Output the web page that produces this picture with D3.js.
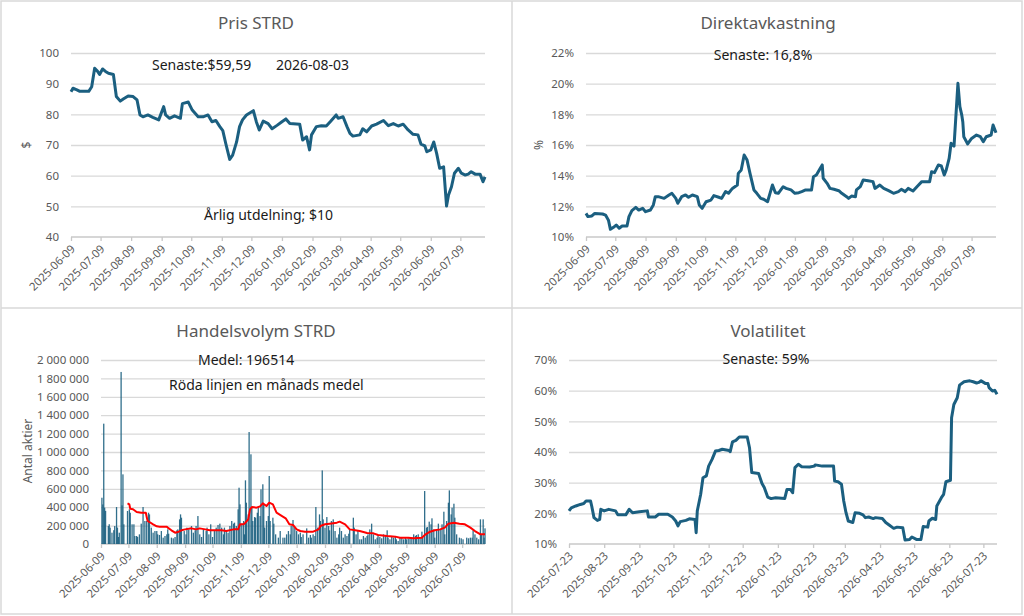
<!DOCTYPE html>
<html>
<head>
<meta charset="utf-8">
<script src="https://cdn.jsdelivr.net/npm/d3@7"></script>
<style>
  body { margin: 0; background: #fff; }
  svg { font-family: "Noto Sans", sans-serif; display: block; }
</style>
</head>
<body>
<svg id="dash" width="1024" height="616"></svg>
<script>
// ---- data ----
const priceDates = ["2025-06-09","2025-06-11","2025-06-15","2025-06-18","2025-06-27","2025-06-30","2025-07-03","2025-07-06","2025-07-08","2025-07-11","2025-07-14","2025-07-17","2025-07-22","2025-07-25","2025-07-29","2025-08-01","2025-08-06","2025-08-11","2025-08-15","2025-08-18","2025-08-21","2025-08-26","2025-08-31","2025-09-06","2025-09-11","2025-09-13","2025-09-17","2025-09-22","2025-09-28","2025-09-30","2025-10-06","2025-10-10","2025-10-16","2025-10-21","2025-10-26","2025-10-30","2025-11-03","2025-11-07","2025-11-10","2025-11-13","2025-11-17","2025-11-20","2025-11-24","2025-11-27","2025-11-30","2025-12-04","2025-12-11","2025-12-14","2025-12-17","2025-12-21","2025-12-26","2025-12-30","2026-01-04","2026-01-09","2026-01-13","2026-01-17","2026-01-27","2026-01-30","2026-02-03","2026-02-06","2026-02-08","2026-02-13","2026-02-18","2026-02-23","2026-02-27","2026-03-05","2026-03-07","2026-03-12","2026-03-16","2026-03-19","2026-03-22","2026-03-29","2026-04-01","2026-04-05","2026-04-10","2026-04-15","2026-04-22","2026-04-27","2026-05-02","2026-05-07","2026-05-12","2026-05-17","2026-05-22","2026-05-27","2026-05-30","2026-06-03","2026-06-05","2026-06-09","2026-06-12","2026-06-15","2026-06-18","2026-06-22","2026-06-25","2026-06-27","2026-06-30","2026-07-03","2026-07-07","2026-07-10","2026-07-14","2026-07-17","2026-07-20","2026-07-24","2026-07-29","2026-08-01","2026-08-03"];
const priceValues = [87.4,88.5,88.0,87.5,87.5,89.0,95.0,94.0,93.0,94.8,94.0,93.4,93.0,85.8,84.3,85.0,86.0,85.8,84.7,79.8,79.2,79.8,79.0,78.2,82.5,79.8,78.7,79.5,78.7,83.5,84.0,81.4,79.2,79.2,79.8,77.6,78.0,76.0,74.7,70.5,65.3,66.7,71.0,76.0,78.2,79.8,81.2,77.6,74.9,77.8,77.0,75.3,76.4,77.6,78.5,77.0,76.8,71.6,72.7,68.4,73.3,76.0,76.3,76.2,77.6,79.8,78.7,79.2,76.0,73.8,72.9,73.3,75.3,74.3,76.2,76.8,78.0,76.3,77.0,76.2,76.8,74.9,73.5,73.3,70.3,69.7,67.8,68.4,71.0,67.2,62.4,62.9,50.1,53.7,56.4,60.8,62.4,60.8,60.2,60.5,61.3,60.5,60.5,58.0,59.6];

const yieldDates = ["2025-06-09","2025-06-11","2025-06-15","2025-06-18","2025-06-26","2025-06-29","2025-07-02","2025-07-04","2025-07-08","2025-07-10","2025-07-13","2025-07-16","2025-07-21","2025-07-23","2025-07-26","2025-07-30","2025-08-02","2025-08-06","2025-08-09","2025-08-14","2025-08-17","2025-08-19","2025-08-22","2025-08-28","2025-09-02","2025-09-05","2025-09-09","2025-09-11","2025-09-15","2025-09-19","2025-09-22","2025-09-26","2025-10-01","2025-10-03","2025-10-06","2025-10-10","2025-10-15","2025-10-18","2025-10-23","2025-10-26","2025-10-30","2025-11-02","2025-11-06","2025-11-11","2025-11-12","2025-11-15","2025-11-18","2025-11-21","2025-11-24","2025-11-28","2025-12-01","2025-12-05","2025-12-08","2025-12-12","2025-12-15","2025-12-17","2025-12-20","2025-12-23","2025-12-28","2025-12-31","2026-01-05","2026-01-09","2026-01-13","2026-01-16","2026-01-20","2026-01-26","2026-01-28","2026-01-31","2026-02-04","2026-02-06","2026-02-07","2026-02-11","2026-02-14","2026-02-18","2026-02-23","2026-02-26","2026-03-03","2026-03-05","2026-03-08","2026-03-12","2026-03-13","2026-03-17","2026-03-20","2026-03-25","2026-03-30","2026-04-01","2026-04-06","2026-04-10","2026-04-15","2026-04-20","2026-04-25","2026-04-28","2026-05-02","2026-05-05","2026-05-10","2026-05-14","2026-05-19","2026-05-27","2026-05-29","2026-06-01","2026-06-05","2026-06-08","2026-06-11","2026-06-13","2026-06-16","2026-06-18","2026-06-21","2026-06-25","2026-06-27","2026-06-29","2026-06-30","2026-07-01","2026-07-05","2026-07-09","2026-07-14","2026-07-18","2026-07-21","2026-07-24","2026-07-29","2026-07-31","2026-08-03"];
const yieldValues = [11.54,11.33,11.37,11.54,11.50,11.43,11.10,10.50,10.67,10.78,10.57,10.72,10.72,11.33,11.72,11.93,11.76,11.87,11.65,11.76,12.09,12.63,12.63,12.52,12.74,12.85,12.52,12.20,12.63,12.74,12.59,12.74,12.63,12.09,11.87,12.30,12.41,12.70,12.59,12.52,12.96,12.85,13.17,13.39,14.15,14.37,15.35,15.02,14.15,13.07,12.85,12.52,12.46,12.30,12.96,13.39,12.89,12.85,13.28,13.17,13.07,12.85,12.89,12.96,13.07,13.07,13.93,14.04,14.48,14.70,13.83,13.50,13.17,13.11,13.02,12.85,12.63,12.52,12.67,12.63,13.07,13.28,13.72,13.67,13.61,13.17,13.39,13.17,13.02,12.85,12.96,13.11,12.96,13.17,13.00,13.28,13.61,13.61,14.26,14.20,14.70,14.63,14.04,14.37,15.13,16.11,15.93,20.02,18.50,17.93,17.50,16.54,16.07,16.43,16.65,16.54,16.22,16.54,16.65,17.30,16.80];

const volumeDates = ["2025-06-10","2025-06-11","2025-06-12","2025-06-13","2025-06-14","2025-06-17","2025-06-18","2025-06-19","2025-06-21","2025-06-23","2025-06-24","2025-06-26","2025-06-27","2025-06-28","2025-06-29","2025-07-01","2025-07-02","2025-07-03","2025-07-04","2025-07-08","2025-07-10","2025-07-11","2025-07-13","2025-07-15","2025-07-16","2025-07-18","2025-07-19","2025-07-21","2025-07-23","2025-07-25","2025-07-27","2025-07-29","2025-07-31","2025-08-01","2025-08-03","2025-08-05","2025-08-07","2025-08-09","2025-08-10","2025-08-12","2025-08-14","2025-08-16","2025-08-18","2025-08-20","2025-08-21","2025-08-22","2025-08-25","2025-08-27","2025-08-29","2025-08-31","2025-09-01","2025-09-03","2025-09-04","2025-09-05","2025-09-08","2025-09-10","2025-09-11","2025-09-13","2025-09-16","2025-09-18","2025-09-20","2025-09-21","2025-09-23","2025-09-25","2025-09-27","2025-09-29","2025-10-02","2025-10-03","2025-10-05","2025-10-07","2025-10-09","2025-10-11","2025-10-13","2025-10-15","2025-10-17","2025-10-19","2025-10-21","2025-10-22","2025-10-24","2025-10-26","2025-10-28","2025-10-30","2025-11-01","2025-11-02","2025-11-04","2025-11-06","2025-11-07","2025-11-08","2025-11-10","2025-11-12","2025-11-13","2025-11-14","2025-11-15","2025-11-17","2025-11-18","2025-11-20","2025-11-21","2025-11-22","2025-11-24","2025-11-25","2025-11-27","2025-11-28","2025-11-30","2025-12-01","2025-12-03","2025-12-04","2025-12-05","2025-12-07","2025-12-09","2025-12-10","2025-12-11","2025-12-14","2025-12-15","2025-12-17","2025-12-20","2025-12-22","2025-12-25","2025-12-27","2025-12-29","2025-12-31","2026-01-02","2026-01-03","2026-01-05","2026-01-07","2026-01-09","2026-01-11","2026-01-13","2026-01-14","2026-01-16","2026-01-20","2026-01-22","2026-01-24","2026-01-25","2026-01-27","2026-01-29","2026-01-30","2026-02-01","2026-02-03","2026-02-04","2026-02-06","2026-02-07","2026-02-09","2026-02-11","2026-02-13","2026-02-14","2026-02-16","2026-02-18","2026-02-20","2026-02-22","2026-02-24","2026-02-25","2026-02-27","2026-03-01","2026-03-03","2026-03-05","2026-03-07","2026-03-08","2026-03-12","2026-03-13","2026-03-15","2026-03-17","2026-03-19","2026-03-21","2026-03-23","2026-03-25","2026-03-27","2026-03-28","2026-03-30","2026-04-01","2026-04-03","2026-04-05","2026-04-07","2026-04-08","2026-04-10","2026-04-12","2026-04-14","2026-04-16","2026-04-18","2026-04-19","2026-04-21","2026-04-23","2026-04-25","2026-04-27","2026-04-28","2026-04-30","2026-05-02","2026-05-04","2026-05-06","2026-05-08","2026-05-09","2026-05-11","2026-05-13","2026-05-15","2026-05-17","2026-05-19","2026-05-20","2026-05-22","2026-05-24","2026-05-26","2026-05-27","2026-05-29","2026-05-31","2026-06-01","2026-06-03","2026-06-05","2026-06-06","2026-06-08","2026-06-09","2026-06-11","2026-06-13","2026-06-15","2026-06-17","2026-06-19","2026-06-20","2026-06-22","2026-06-24","2026-06-25","2026-06-27","2026-06-28","2026-06-30","2026-07-01","2026-07-03","2026-07-06","2026-07-08","2026-07-10","2026-07-14","2026-07-16","2026-07-18","2026-07-20","2026-07-21","2026-07-23","2026-07-25","2026-07-27","2026-07-29","2026-07-30","2026-08-01","2026-08-02","2026-08-03"];
const volumeValues = [503000,430000,1308000,395000,360000,195000,215000,178000,123000,150000,195000,402000,178000,76000,123000,1870000,420000,757000,214000,359000,377000,340000,214000,214000,87000,87000,76000,105000,221000,402000,250000,250000,340000,322000,178000,123000,141000,141000,105000,98000,141000,69000,87000,105000,159000,112000,69000,62000,76000,149000,159000,268000,322000,286000,141000,105000,178000,159000,196000,123000,149000,196000,304000,105000,76000,159000,141000,178000,105000,214000,76000,141000,178000,207000,221000,178000,105000,178000,141000,123000,196000,250000,221000,232000,196000,377000,612000,431000,221000,250000,105000,692000,449000,322000,1217000,975000,395000,250000,293000,286000,340000,402000,304000,594000,649000,431000,178000,250000,304000,739000,250000,286000,221000,105000,69000,141000,69000,69000,105000,141000,105000,196000,261000,178000,141000,105000,123000,76000,105000,170000,69000,98000,69000,105000,87000,402000,178000,322000,250000,800000,268000,178000,293000,196000,149000,250000,268000,141000,69000,105000,178000,141000,69000,105000,87000,112000,159000,286000,178000,105000,149000,51000,51000,87000,69000,87000,105000,159000,221000,105000,51000,69000,87000,76000,62000,105000,87000,149000,69000,51000,87000,69000,76000,51000,33000,69000,69000,51000,76000,51000,62000,76000,69000,105000,87000,98000,105000,69000,134000,69000,576000,178000,185000,243000,214000,279000,159000,69000,149000,221000,159000,214000,351000,105000,250000,449000,583000,322000,395000,438000,286000,105000,69000,62000,51000,69000,62000,69000,69000,149000,105000,69000,51000,268000,105000,268000,69000,170000];

const avgDates = ["2025-07-08","2025-07-10","2025-07-11","2025-07-14","2025-07-18","2025-07-23","2025-07-28","2025-07-29","2025-07-30","2025-08-01","2025-08-05","2025-08-09","2025-08-12","2025-08-20","2025-08-21","2025-08-25","2025-08-29","2025-09-01","2025-09-05","2025-09-09","2025-09-16","2025-09-21","2025-09-25","2025-10-01","2025-10-06","2025-10-13","2025-10-19","2025-10-24","2025-11-01","2025-11-06","2025-11-08","2025-11-12","2025-11-14","2025-11-17","2025-11-19","2025-11-21","2025-11-26","2025-11-30","2025-12-03","2025-12-07","2025-12-10","2025-12-14","2025-12-18","2025-12-24","2025-12-28","2026-01-01","2026-01-05","2026-01-09","2026-01-13","2026-01-18","2026-01-27","2026-02-02","2026-02-04","2026-02-09","2026-02-14","2026-02-22","2026-02-25","2026-03-03","2026-03-08","2026-03-14","2026-03-19","2026-03-27","2026-04-03","2026-04-08","2026-04-18","2026-04-27","2026-05-02","2026-05-11","2026-05-17","2026-05-26","2026-05-30","2026-06-04","2026-06-09","2026-06-15","2026-06-20","2026-06-24","2026-06-30","2026-07-06","2026-07-12","2026-07-18","2026-07-23","2026-07-29","2026-08-03"];
const avgValues = [442000,431000,384000,377000,348000,340000,340000,293000,250000,239000,214000,192000,188000,188000,178000,149000,123000,130000,149000,159000,170000,159000,170000,159000,149000,149000,149000,141000,159000,159000,214000,214000,232000,268000,377000,402000,395000,409000,442000,413000,449000,431000,340000,304000,279000,214000,207000,159000,141000,134000,134000,159000,196000,214000,221000,232000,243000,214000,159000,149000,141000,120000,116000,98000,87000,80000,69000,69000,62000,69000,105000,134000,149000,159000,178000,221000,232000,221000,214000,178000,141000,105000,105000];

const volaDates = ["2025-07-23","2025-07-25","2025-07-29","2025-08-02","2025-08-05","2025-08-07","2025-08-11","2025-08-12","2025-08-14","2025-08-17","2025-08-19","2025-08-20","2025-08-23","2025-08-27","2025-09-02","2025-09-04","2025-09-11","2025-09-14","2025-09-17","2025-09-23","2025-09-30","2025-10-01","2025-10-07","2025-10-10","2025-10-18","2025-10-22","2025-10-25","2025-10-27","2025-10-29","2025-11-03","2025-11-06","2025-11-11","2025-11-12","2025-11-13","2025-11-16","2025-11-18","2025-11-21","2025-11-23","2025-11-26","2025-11-29","2025-12-02","2025-12-05","2025-12-11","2025-12-12","2025-12-14","2025-12-17","2025-12-20","2025-12-27","2025-12-29","2025-12-31","2026-01-06","2026-01-09","2026-01-11","2026-01-14","2026-01-17","2026-01-21","2026-01-29","2026-01-31","2026-02-03","2026-02-05","2026-02-07","2026-02-10","2026-02-13","2026-02-20","2026-02-24","2026-02-25","2026-03-03","2026-03-13","2026-03-14","2026-03-17","2026-03-20","2026-03-22","2026-03-24","2026-03-26","2026-03-30","2026-04-01","2026-04-05","2026-04-08","2026-04-10","2026-04-13","2026-04-17","2026-04-19","2026-04-25","2026-04-28","2026-05-01","2026-05-05","2026-05-08","2026-05-13","2026-05-15","2026-05-19","2026-05-21","2026-05-25","2026-05-29","2026-05-31","2026-06-04","2026-06-05","2026-06-08","2026-06-11","2026-06-12","2026-06-16","2026-06-18","2026-06-20","2026-06-24","2026-06-25","2026-06-27","2026-06-30","2026-07-02","2026-07-06","2026-07-11","2026-07-14","2026-07-17","2026-07-19","2026-07-21","2026-07-25","2026-07-27","2026-07-28","2026-07-31","2026-08-02","2026-08-04"];
const volaValues = [20.8,21.8,22.4,22.9,23.2,24.0,24.0,22.4,18.6,17.7,18.0,21.3,20.8,21.3,20.8,19.5,19.5,21.3,20.2,20.5,20.8,18.8,18.8,19.7,19.7,18.8,17.5,15.9,17.3,17.7,18.2,18.0,13.7,20.8,26.2,31.6,32.2,35.4,37.6,40.3,40.5,40.9,40.5,40.1,43.3,43.8,44.9,44.9,41.4,33.3,33.0,29.7,28.4,25.3,24.8,25.1,24.8,27.8,27.8,26.7,34.9,36.0,35.2,35.1,35.4,35.8,35.4,35.4,30.5,30.3,29.5,24.0,20.2,17.5,17.0,20.2,20.0,19.5,18.6,18.8,18.3,18.6,18.3,17.0,16.2,15.1,15.5,15.3,11.3,11.5,12.3,11.5,11.5,15.7,15.5,17.5,18.4,18.0,22.4,25.1,26.2,30.3,30.8,51.2,55.5,57.7,61.8,62.9,63.2,62.9,62.5,62.7,63.2,62.3,62.3,61.0,59.9,60.1,58.8];

// tick labels
const monthTicks = ["2025-06-09","2025-07-09","2025-08-09","2025-09-09","2025-10-09","2025-11-09","2025-12-09","2026-01-09","2026-02-09","2026-03-09","2026-04-09","2026-05-09","2026-06-09","2026-07-09"];
const volaTicks = ["2025-07-23","2025-08-23","2025-09-23","2025-10-23","2025-11-23","2025-12-23","2026-01-23","2026-02-23","2026-03-23","2026-04-23","2026-05-23","2026-06-23","2026-07-23"];
const priceTicks = [40, 50, 60, 70, 80, 90, 100];
const yieldTicks = [10, 12, 14, 16, 18, 20, 22];
const volumeTicks = [0, 200000, 400000, 600000, 800000, 1000000, 1200000, 1400000, 1600000, 1800000, 2000000];
const volaTicks_y = [10, 20, 30, 40, 50, 60, 70];

const parse = d3.utcParse("%Y-%m-%d");
const fmtDate = d3.utcFormat("%Y-%m-%d");
const spaced = d3.formatLocale({ decimal: ",", thousands: "\u00a0", grouping: [3], currency: ["", ""] }).format(",d");

const svg = d3.select("svg#dash");
const blue = "#1b5f80";
const grey = "#595959";

// frame
svg.append("rect").attr("x", 1).attr("y", 1).attr("width", 1021).attr("height", 613)
	.attr("fill", "none").attr("stroke", "#d9d9d9").attr("stroke-width", 1.5);
svg.append("line").attr("x1", 512).attr("x2", 512).attr("y1", 1).attr("y2", 614)
	.attr("stroke", "#d9d9d9").attr("stroke-width", 1.5);
svg.append("line").attr("x1", 1).attr("x2", 1022).attr("y1", 308).attr("y2", 308)
	.attr("stroke", "#d9d9d9").attr("stroke-width", 1.5);

const drawPanel = function (p) {
	const g = svg.append("g");
	const x = d3.scaleUtc(p.xDomain.map(parse), [p.left, p.right]);
	const y = d3.scaleLinear([p.yTicks[0], p.yTicks[p.yTicks.length - 1]], [p.bottom, p.top]);

	let grid = d3.axisLeft(y).tickValues(p.yTicks.slice(1)).tickSize(-(p.right - p.left)).tickFormat("");
	g.append("g").attr("class", "y-grid")
		.attr("transform", `translate(${p.left},0)`)
		.call(grid)
		.call((s) => s.select(".domain").remove())
		.selectAll("line").attr("stroke", "#d9d9d9").attr("stroke-width", 1.3);

	let leftAxis = d3.axisLeft(y).tickValues(p.yTicks).tickFormat(p.yFormat).tickSize(0).tickPadding(p.pad);
	g.append("g").attr("class", "y-axis")
		.attr("transform", `translate(${p.left},0)`)
		.call(leftAxis)
		.call((s) => s.select(".domain").remove())
		.selectAll("text").attr("fill", grey).attr("font-size", 11.5).attr("font-family", "Noto Sans");

	let bottomAxis = d3.axisBottom(x).tickValues(p.xTicks.map(parse)).tickFormat(fmtDate).tickSize(4).tickSizeOuter(0);
	const xa = g.append("g").attr("class", "x-axis")
		.attr("transform", `translate(0,${p.bottom})`)
		.call(bottomAxis);
	xa.select(".domain").attr("stroke", "#c8c8c8").attr("stroke-width", 1.3)
		.attr("d", `M${p.left},0H${p.right}`);
	xa.selectAll(".tick line").attr("stroke", "#c8c8c8").attr("stroke-width", 1.3);
	xa.selectAll("text")
		.attr("fill", grey).attr("font-size", 11.3).attr("font-family", "Noto Sans")
		.attr("text-anchor", "end")
		.attr("x", -6).attr("y", 8).attr("dy", "0.35em")
		.attr("transform", "rotate(-45)");

	g.append("text").attr("x", p.titleX).attr("y", p.titleY).attr("dy", "0.35em")
		.attr("text-anchor", "middle").attr("font-size", 17).attr("fill", grey).text(p.title);

	if (p.yLabel) {
		g.append("text")
			.attr("transform", `translate(${p.yLabelX},${p.yLabelY}) rotate(-90)`)
			.attr("dy", "0.35em").attr("text-anchor", "middle")
			.attr("font-size", 12).attr("fill", grey).text(p.yLabel);
	}
	return { g, x, y };
};

const note = function (txt, x, y, anchor) {
	svg.append("text").attr("x", x).attr("y", y).attr("dy", "0.35em")
		.attr("text-anchor", anchor).attr("font-size", 14).attr("fill", "#1a1a1a").text(txt);
};

// 1. Pris STRD
const pPrice = drawPanel({
	left: 71, right: 485, top: 53, bottom: 237, pad: 12,
	xDomain: ["2025-06-09", "2026-08-03"], xTicks: monthTicks,
	yTicks: priceTicks, yFormat: d3.format("d"),
	title: "Pris STRD", titleX: 256, titleY: 23,
	yLabel: "$", yLabelX: 27, yLabelY: 145
});
pPrice.g.append("path")
	.datum(priceDates.map((d, i) => [parse(d), priceValues[i]]))
	.attr("fill", "none").attr("stroke", blue).attr("stroke-width", 3).attr("stroke-linejoin", "round")
	.attr("d", d3.line((d) => pPrice.x(d[0]), (d) => pPrice.y(d[1])));
note("Senaste:$59,59", 152, 65, "start");
note("2026-08-03", 276, 65, "start");
note("Årlig utdelning; $10", 204, 215, "start");

// 2. Direktavkastning
const pYield = drawPanel({
	left: 586, right: 996, top: 53, bottom: 237, pad: 12,
	xDomain: ["2025-06-09", "2026-08-03"], xTicks: monthTicks,
	yTicks: yieldTicks, yFormat: (d) => d + "%",
	title: "Direktavkastning", titleX: 768, titleY: 23,
	yLabel: "%", yLabelX: 539, yLabelY: 145
});
pYield.g.append("path")
	.datum(yieldDates.map((d, i) => [parse(d), yieldValues[i]]))
	.attr("fill", "none").attr("stroke", blue).attr("stroke-width", 3).attr("stroke-linejoin", "round")
	.attr("d", d3.line((d) => pYield.x(d[0]), (d) => pYield.y(d[1])));
note("Senaste: 16,8%", 763, 55, "middle");

// 3. Handelsvolym STRD
const pVol = drawPanel({
	left: 101, right: 485, top: 360, bottom: 544, pad: 12,
	xDomain: ["2025-06-09", "2026-08-03"], xTicks: monthTicks,
	yTicks: volumeTicks, yFormat: spaced,
	title: "Handelsvolym STRD", titleX: 256, titleY: 331,
	yLabel: "Antal aktier", yLabelX: 28, yLabelY: 451
});
pVol.g.append("g").selectAll("rect")
	.data(volumeDates.map((d, i) => [parse(d), volumeValues[i]]))
	.join("rect")
	.attr("x", (d) => pVol.x(d[0]) - 0.65)
	.attr("width", 1.3)
	.attr("y", (d) => pVol.y(d[1]))
	.attr("height", (d) => pVol.y(0) - pVol.y(d[1]))
	.attr("fill", blue).attr("fill-opacity", 0.9);
pVol.g.append("path")
	.datum(avgDates.map((d, i) => [parse(d), avgValues[i]]))
	.attr("fill", "none").attr("stroke", "#ff0000").attr("stroke-width", 2).attr("stroke-linejoin", "round")
	.attr("d", d3.line((d) => pVol.x(d[0]), (d) => pVol.y(d[1])));
note("Medel: 196514", 198, 360, "start");
note("Röda linjen en månads medel", 169, 385, "start");

// 4. Volatilitet
const pVola = drawPanel({
	left: 569, right: 997, top: 360, bottom: 544, pad: 12,
	xDomain: ["2025-07-23", "2026-08-04"], xTicks: volaTicks,
	yTicks: volaTicks_y, yFormat: (d) => d + "%",
	title: "Volatilitet", titleX: 768, titleY: 331
});
pVola.g.append("path")
	.datum(volaDates.map((d, i) => [parse(d), volaValues[i]]))
	.attr("fill", "none").attr("stroke", blue).attr("stroke-width", 3).attr("stroke-linejoin", "round")
	.attr("d", d3.line((d) => pVola.x(d[0]), (d) => pVola.y(d[1])));
note("Senaste: 59%", 766, 359, "middle");
</script>
</body>
</html>
